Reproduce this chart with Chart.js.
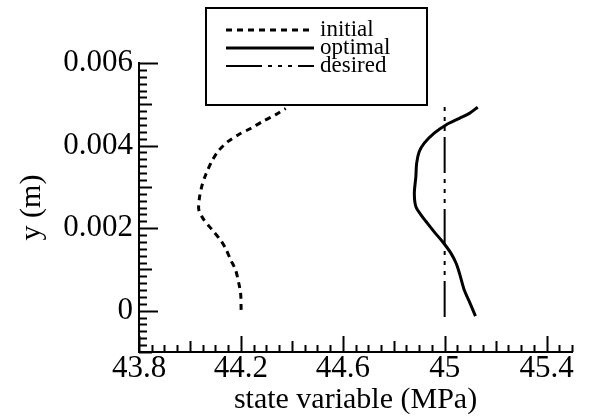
<!DOCTYPE html>
<html><head><meta charset="utf-8">
<script src="https://cdn.jsdelivr.net/npm/chart.js@4/dist/chart.umd.min.js"></script>
<style>html,body{margin:0;padding:0;background:#fff}#wrap{width:594px;height:420px}</style>
</head><body><div id="wrap"><canvas id="c" width="594" height="420"></canvas></div>
<script>
const seriesNames = ['initial', 'optimal', 'desired'];
const initialX = [44.201,44.199,44.192,44.179,44.160,44.140,44.120,44.087,44.055,44.035,44.037,44.046,44.063,44.086,44.113,44.150,44.195,44.240,44.287,44.337,44.376];
const initialY = [0.00002,0.00042,0.00066,0.00099,0.00123,0.00151,0.00171,0.00196,0.00220,0.00244,0.00272,0.00300,0.00331,0.00362,0.00388,0.00410,0.00428,0.00442,0.00459,0.00475,0.00490];
const optimalX = [45.121,45.097,45.077,45.058,45.045,45.025,44.992,44.959,44.927,44.907,44.887,44.881,44.887,44.890,44.900,44.920,44.959,45.005,45.058,45.097,45.130];
const optimalY = [-0.00013,0.00022,0.00050,0.00091,0.00115,0.00139,0.00167,0.00191,0.00216,0.00232,0.00252,0.00284,0.00325,0.00357,0.00385,0.00406,0.00430,0.00450,0.00466,0.00478,0.00493];
const desiredX = [45.0, 45.0];
const desiredY = [-0.00015, 0.005];
const xTickLabels = [43.8, 44.2, 44.6, 45, 45.4];
const yTickLabels = [0, 0.002, 0.004, 0.006];
const xRange = [43.8, 45.5];
const yRange = [-0.001, 0.006];

const pts = (xs, ys) => xs.map((x, i) => ({x: x, y: ys[i]}));
const SERIF = '"Liberation Serif", "Times New Roman", serif';

const minorTicks = {
  id: 'minorTicks',
  afterDatasetsDraw(chart) {
    const ctx = chart.ctx, xs = chart.scales.x, ys = chart.scales.y, a = chart.chartArea;
    ctx.save();
    ctx.strokeStyle = '#000';
    ctx.lineWidth = 2;
    const nx = Math.round((xRange[1] - xRange[0]) / 0.05);
    for (let i = 0; i <= nx; i++) {
      const v = xRange[0] + i * 0.05;
      const px = Math.round(xs.getPixelForValue(v)) + 0.5;
      const len = (i % 8 === 0) ? 16 : (i % 4 === 0) ? 11 : 7;
      ctx.beginPath(); ctx.moveTo(px, a.bottom); ctx.lineTo(px, a.bottom - len); ctx.stroke();
    }
    const ny = 42;
    for (let j = 0; j <= ny; j++) {
      const v = yRange[0] + j * (0.001 / 6);
      const py = Math.round(ys.getPixelForValue(v)) + 0.5;
      const len = ((j - 6) % 12 === 0) ? 19 : (j % 6 === 0) ? 13 : 8;
      ctx.beginPath(); ctx.moveTo(a.left, py); ctx.lineTo(a.left + len, py); ctx.stroke();
    }
    ctx.restore();
  }
};

const boxLegend = {
  id: 'boxLegend',
  afterDraw(chart) {
    const ctx = chart.ctx;
    ctx.save();
    ctx.fillStyle = '#fff';
    ctx.fillRect(206, 8, 221, 97);
    ctx.strokeStyle = '#000';
    ctx.lineWidth = 2;
    ctx.strokeRect(206, 8, 221, 97);
    chart.data.datasets.forEach((ds, i) => {
      const y = 30 + i * 18;
      ctx.setLineDash(ds.borderDash || []);
      ctx.lineWidth = ds.borderWidth;
      ctx.strokeStyle = '#000';
      ctx.beginPath(); ctx.moveTo(226, y); ctx.lineTo(314, y); ctx.stroke();
      ctx.setLineDash([]);
      ctx.fillStyle = '#000';
      ctx.font = '23px ' + SERIF;
      ctx.textBaseline = 'middle';
      ctx.textAlign = 'left';
      ctx.fillText(ds.label, 320, y);
    });
    ctx.restore();
  }
};

new Chart(document.getElementById('c'), {
  type: 'scatter',
  data: {
    datasets: [
      {label: seriesNames[0], data: pts(initialX, initialY), showLine: true, borderColor: '#000', borderWidth: 3, borderDash: [6, 5], pointRadius: 0, tension: 0.3},
      {label: seriesNames[1], data: pts(optimalX, optimalY), showLine: true, borderColor: '#000', borderWidth: 3, pointRadius: 0, tension: 0.3},
      {label: seriesNames[2], data: pts(desiredX, desiredY), showLine: true, borderColor: '#000', borderWidth: 2, borderDash: [36, 6, 4, 6, 4, 6, 4, 6], pointRadius: 0}
    ]
  },
  options: {
    responsive: false,
    animation: false,
    devicePixelRatio: 1,
    layout: {padding: {left: 0, right: 22, top: 63, bottom: 0}},
    plugins: {legend: {display: false}, tooltip: {enabled: false}},
    scales: {
      x: {
        type: 'linear', min: xRange[0], max: xRange[1],
        afterBuildTicks: s => { s.ticks = xTickLabels.map(v => ({value: v})); },
        afterFit: s => { s.height = 68; },
        grid: {display: false, drawTicks: false},
        border: {display: true, color: '#000', width: 2},
        ticks: {color: '#000', font: {family: SERIF, size: 31}, padding: -2, maxRotation: 0, autoSkip: false,
          callback: v => String(v)},
        title: {display: true, text: 'state variable (MPa)', color: '#000', font: {family: SERIF, size: 30}, padding: {top: 0, bottom: 2}}
      },
      y: {
        type: 'linear', min: yRange[0], max: yRange[1],
        afterBuildTicks: s => { s.ticks = yTickLabels.map(v => ({value: v})); },
        afterFit: s => { s.width = 139; },
        grid: {display: false, drawTicks: false},
        border: {display: true, color: '#000', width: 2},
        ticks: {color: '#000', font: {family: SERIF, size: 31}, padding: 6, autoSkip: false,
          callback: v => v === 0 ? '0' : v.toFixed(3)},
        title: {display: true, text: 'y (m)', color: '#000', font: {family: SERIF, size: 30}, padding: {top: 14, bottom: 0}}
      }
    }
  },
  plugins: [minorTicks, boxLegend]
});
</script>
</body></html>
